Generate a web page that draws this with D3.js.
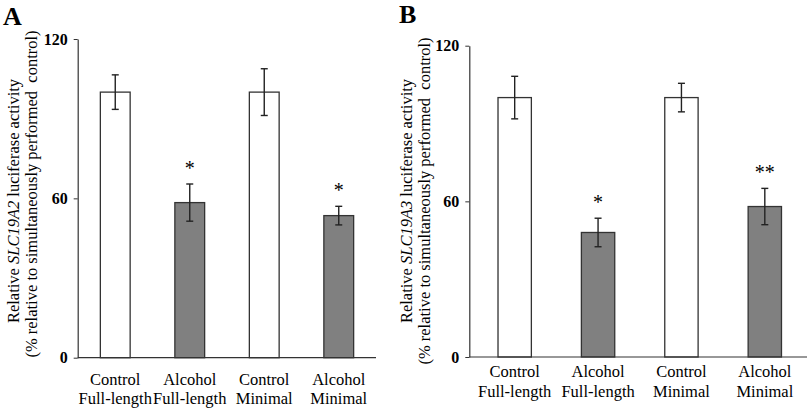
<!DOCTYPE html>
<html><head><meta charset="utf-8">
<script src="https://cdn.jsdelivr.net/npm/d3@7"></script>
<style>body{margin:0;background:#fff}svg{display:block}text{font-family:"Liberation Serif","Times New Roman",serif;fill:#000}</style>
</head><body>
<script>
const categoriesLine1 = ["Control","Alcohol","Control","Alcohol"];
const categoriesLine2 = ["Full-length","Full-length","Minimal","Minimal"];
const groups = ["ctl","alc","ctl","alc"];
const valuesA = [100, 58.4, 100, 53.5];
const errorsA = [6.5, 7, 8.8, 3.5];
const sigA = ["", "*", "", "*"];
const valuesB = [100, 48, 100, 58];
const errorsB = [8.2, 5.5, 5.5, 7];
const sigB = ["", "*", "", "**"];
const yTicks = [0, 60, 120];
const geneA = "SLC19A2", geneB = "SLC19A3";

const svg = d3.select("body").append("svg").attr("width",807).attr("height",411);
const SERIF = "Liberation Serif, Times New Roman, serif";

function panel(o){
  const g = svg.append("g").attr("font-family",SERIF);
  const y = d3.scaleLinear().domain([0,120]).range([o.y0, o.y1]);
  const x = d3.scaleBand().domain(d3.range(4)).range([o.bx0, o.bx1]).paddingInner(o.pad).paddingOuter(o.pad/2);
  g.selectAll("rect.bar").data(o.vals).enter().append("rect")
    .attr("x",(d,i)=>x(i)).attr("width",x.bandwidth())
    .attr("y",d=>y(d)).attr("height",d=>y(0)-y(d))
    .attr("fill",(d,i)=>groups[i]==="ctl"?"#fff":"#808080")
    .attr("stroke","#333").attr("stroke-width",1.3);
  const eg = g.selectAll("g.err").data(o.vals).enter().append("g");
  eg.append("line").attr("x1",(d,i)=>x(i)+x.bandwidth()/2).attr("x2",(d,i)=>x(i)+x.bandwidth()/2)
    .attr("y1",(d,i)=>y(d+o.errs[i])).attr("y2",(d,i)=>y(d-o.errs[i])).attr("stroke","#222").attr("stroke-width",1.4);
  [1,-1].forEach(s=>{
    eg.append("line").attr("x1",(d,i)=>x(i)+x.bandwidth()/2-3.5).attr("x2",(d,i)=>x(i)+x.bandwidth()/2+3.5)
      .attr("y1",(d,i)=>y(d+s*o.errs[i])).attr("y2",(d,i)=>y(d+s*o.errs[i])).attr("stroke","#222").attr("stroke-width",1.4);
  });
  g.selectAll("text.sig").data(o.sig).enter().append("text")
    .attr("font-family",SERIF)
    .attr("x",(d,i)=>x(i)+x.bandwidth()/2).attr("y",(d,i)=>y(o.vals[i]+o.errs[i])-9)
    .attr("text-anchor","middle").attr("font-size",20).text(d=>d);
  const ax = g.append("g").attr("transform",`translate(${o.ax},0)`)
    .call(d3.axisLeft(y).tickValues(yTicks).tickSize(4).tickSizeOuter(0).tickPadding(6));
  ax.attr("font-family",SERIF);
  ax.select(".domain").attr("stroke","#333").attr("stroke-width",1.2);
  ax.selectAll(".tick line").attr("stroke","#333");
  ax.selectAll("text").attr("font-size",16).attr("font-weight","bold").attr("font-family",SERIF);
  g.append("line").attr("x1",o.ax).attr("x2",o.xend).attr("y1",y(0)).attr("y2",y(0)).attr("stroke","#333").attr("stroke-width",1.2);
  const lab = g.selectAll("text.cat").data(categoriesLine1).enter().append("text")
    .attr("font-family",SERIF).attr("text-anchor","middle").attr("font-size",16.5);
  lab.append("tspan").attr("x",(d,i)=>x(i)+x.bandwidth()/2).attr("y",o.l1).text(d=>d);
  lab.append("tspan").attr("x",(d,i)=>x(i)+x.bandwidth()/2).attr("y",o.l2).text((d,i)=>categoriesLine2[i]);
  const t1 = g.append("text").attr("font-family",SERIF).attr("transform",`translate(${o.t1x},${o.t1y}) rotate(-90)`).attr("text-anchor","middle").attr("font-size",16.5);
  t1.append("tspan").text("Relative ");
  t1.append("tspan").attr("font-style","italic").text(o.gene);
  t1.append("tspan").text(" luciferase activity");
  g.append("text").attr("font-family",SERIF).attr("transform",`translate(${o.t2x},${o.t2y}) rotate(-90)`).attr("text-anchor","middle").attr("font-size",16.5)
    .attr("xml:space","preserve").text("(% relative to simultaneously performed  control)");
  g.append("text").attr("font-family",SERIF).attr("x",o.lx).attr("y",o.ly).attr("font-size",26).attr("font-weight","bold").text(o.letter);
}

panel({vals:valuesA, errs:errorsA, sig:sigA, gene:geneA, letter:"A",
  y0:357.7, y1:39, bx0:78, bx1:376, pad:0.6, ax:77.7, xend:376,
  l1:385, l2:404, t1x:19, t1y:201, t2x:37, t2y:194, lx:3, ly:25});
panel({vals:valuesB, errs:errorsB, sig:sigB, gene:geneB, letter:"B",
  y0:357, y1:45.7, bx0:473, bx1:806.5, pad:0.6, ax:469.3, xend:807,
  l1:377, l2:397, t1x:412, t1y:201, t2x:430, t2y:201, lx:399, ly:23});
</script>
</body></html>
